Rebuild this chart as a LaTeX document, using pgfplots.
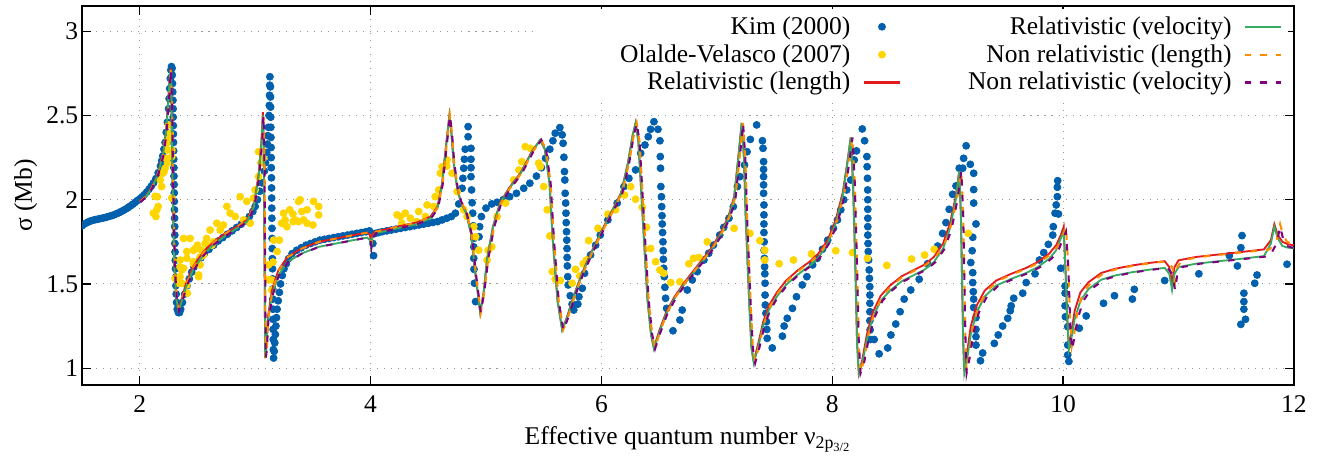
\documentclass[border=0pt]{standalone}
\usepackage{fontspec}
\setmainfont{Liberation Serif}
\usepackage{pgfplots}
\usepackage{pgfplotstable}
\pgfplotsset{compat=1.18}

\definecolor{kimblue}{RGB}{0,96,173}
\definecolor{olyellow}{RGB}{255,213,0}
\definecolor{relred}{RGB}{228,26,28}
\definecolor{rgreen}{RGB}{55,170,100}
\definecolor{nrorange}{RGB}{255,140,0}
\definecolor{nrpurple}{RGB}{128,0,128}

% theory: x, relativistic length (r), relativistic velocity (g), x of the non-relativistic runs (xp)
\pgfplotstableread{
x r g xp
2.000 1.990 1.985 2.005
2.050 2.020 2.015 2.055
2.100 2.070 2.065 2.105
2.150 2.140 2.135 2.155
2.200 2.270 2.260 2.205
2.230 2.420 2.410 2.235
2.250 2.620 2.610 2.255
2.265 2.780 2.770 2.270
2.275 2.600 2.600 2.280
2.285 2.100 2.100 2.290
2.300 1.600 1.600 2.305
2.315 1.420 1.420 2.320
2.335 1.350 1.340 2.340
2.360 1.400 1.385 2.365
2.400 1.500 1.480 2.405
2.460 1.600 1.580 2.465
2.550 1.690 1.670 2.555
2.640 1.750 1.735 2.645
2.740 1.800 1.785 2.745
2.840 1.840 1.830 2.845
2.930 1.880 1.870 2.935
2.990 1.970 1.960 2.995
3.030 2.150 2.140 3.035
3.055 2.350 2.340 3.060
3.067 2.520 2.500 3.072
3.075 2.300 2.300 3.080
3.082 1.600 1.600 3.087
3.087 1.060 1.060 3.092
3.095 1.100 1.100 3.100
3.110 1.300 1.280 3.115
3.145 1.460 1.430 3.150
3.200 1.580 1.550 3.205
3.280 1.660 1.630 3.285
3.400 1.710 1.680 3.405
3.550 1.750 1.720 3.555
3.700 1.770 1.740 3.705
3.850 1.790 1.760 3.855
3.970 1.805 1.775 3.975
3.995 1.790 1.760 4.000
4.003 1.740 1.720 4.008
4.012 1.790 1.770 4.017
4.040 1.810 1.800 4.045
4.200 1.835 1.825 4.205
4.400 1.865 1.855 4.405
4.520 1.900 1.890 4.525
4.580 1.960 1.950 4.585
4.620 2.100 2.090 4.625
4.655 2.330 2.320 4.660
4.683 2.500 2.500 4.688
4.700 2.400 2.400 4.705
4.720 2.220 2.220 4.725
4.750 2.070 2.070 4.755
4.780 1.990 1.990 4.785
4.830 1.920 1.915 4.835
4.870 1.800 1.800 4.875
4.910 1.550 1.550 4.915
4.950 1.330 1.330 4.955
4.980 1.450 1.450 4.985
5.010 1.650 1.650 5.020
5.060 1.840 1.835 5.070
5.120 1.980 1.975 5.130
5.200 2.070 2.065 5.210
5.300 2.160 2.155 5.310
5.400 2.290 2.285 5.410
5.470 2.355 2.355 5.480
5.510 2.300 2.300 5.520
5.550 2.100 2.100 5.560
5.580 1.750 1.750 5.590
5.620 1.400 1.400 5.630
5.660 1.230 1.225 5.670
5.700 1.300 1.295 5.710
5.760 1.430 1.425 5.770
5.830 1.560 1.555 5.840
5.900 1.670 1.665 5.910
5.990 1.800 1.795 6.000
6.080 1.920 1.915 6.090
6.170 2.040 2.035 6.180
6.230 2.220 2.215 6.240
6.270 2.380 2.380 6.280
6.296 2.455 2.455 6.306
6.320 2.350 2.350 6.330
6.345 2.050 2.050 6.355
6.370 1.750 1.750 6.380
6.400 1.400 1.400 6.410
6.430 1.200 1.200 6.440
6.455 1.120 1.115 6.465
6.500 1.220 1.210 6.510
6.560 1.330 1.320 6.570
6.630 1.420 1.410 6.640
6.720 1.510 1.500 6.730
6.800 1.580 1.570 6.810
6.870 1.640 1.630 6.880
6.950 1.710 1.700 6.960
7.030 1.800 1.790 7.042
7.100 1.900 1.890 7.112
7.150 2.020 2.010 7.162
7.190 2.280 2.270 7.202
7.215 2.455 2.455 7.227
7.235 2.250 2.250 7.247
7.250 1.900 1.900 7.262
7.280 1.400 1.400 7.292
7.300 1.120 1.120 7.312
7.320 1.040 1.030 7.332
7.360 1.150 1.130 7.372
7.400 1.270 1.250 7.412
7.450 1.370 1.345 7.462
7.520 1.450 1.425 7.532
7.600 1.520 1.495 7.612
7.700 1.580 1.555 7.712
7.800 1.630 1.605 7.812
7.880 1.680 1.655 7.892
7.960 1.760 1.740 7.972
8.030 1.880 1.860 8.045
8.090 2.040 2.020 8.105
8.130 2.220 2.210 8.145
8.160 2.370 2.370 8.175
8.180 2.100 2.100 8.195
8.200 1.600 1.600 8.215
8.215 1.150 1.150 8.230
8.230 0.970 0.970 8.245
8.260 1.050 1.030 8.275
8.300 1.200 1.170 8.315
8.350 1.330 1.300 8.365
8.420 1.430 1.400 8.435
8.500 1.490 1.460 8.515
8.600 1.545 1.515 8.615
8.700 1.580 1.550 8.715
8.800 1.615 1.585 8.815
8.880 1.660 1.630 8.895
8.960 1.740 1.710 8.975
9.020 1.860 1.830 9.035
9.070 2.020 2.000 9.085
9.100 2.170 2.170 9.118
9.115 1.900 1.900 9.135
9.125 1.500 1.500 9.145
9.135 1.150 1.150 9.155
9.144 0.980 0.970 9.164
9.170 1.100 1.060 9.190
9.200 1.250 1.200 9.220
9.250 1.370 1.330 9.270
9.320 1.460 1.425 9.340
9.420 1.520 1.490 9.440
9.550 1.560 1.530 9.570
9.680 1.595 1.565 9.700
9.780 1.630 1.600 9.800
9.880 1.680 1.650 9.900
9.940 1.730 1.700 9.960
9.980 1.790 1.770 10.000
10.005 1.840 1.810 10.025
10.020 1.600 1.600 10.045
10.035 1.300 1.300 10.060
10.050 1.130 1.110 10.075
10.070 1.200 1.170 10.095
10.100 1.340 1.290 10.125
10.150 1.450 1.400 10.175
10.220 1.510 1.470 10.245
10.330 1.565 1.525 10.355
10.450 1.590 1.550 10.475
10.600 1.610 1.570 10.625
10.750 1.625 1.585 10.775
10.880 1.635 1.595 10.905
10.920 1.600 1.560 10.945
10.944 1.510 1.464 10.970
10.965 1.600 1.560 10.990
11.000 1.640 1.600 11.030
11.150 1.660 1.620 11.185
11.350 1.675 1.635 11.385
11.550 1.690 1.650 11.590
11.740 1.705 1.665 11.790
11.800 1.760 1.740 11.850
11.830 1.855 1.840 11.880
11.860 1.790 1.770 11.905
11.900 1.750 1.725 11.940
11.950 1.735 1.715 11.990
12.000 1.730 1.712 12.040
}\theory

\pgfplotstableread{
x y
1.50 1.845
1.52 1.855
1.54 1.863
1.56 1.870
1.58 1.875
1.60 1.879
1.62 1.882
1.64 1.885
1.66 1.888
1.68 1.891
1.70 1.894
1.72 1.898
1.74 1.902
1.76 1.906
1.78 1.911
1.80 1.917
1.82 1.923
1.84 1.930
1.86 1.937
1.88 1.945
1.90 1.954
1.92 1.963
1.94 1.973
1.96 1.984
1.98 1.995
2.00 2.005
2.02 2.017
2.04 2.030
2.06 2.045
2.08 2.062
2.10 2.080
2.12 2.100
2.14 2.125
2.16 2.160
2.18 2.200
2.19 2.230
2.20 2.260
2.21 2.300
2.22 2.340
2.23 2.400
2.24 2.460
2.25 2.540
2.255 2.600
2.26 2.660
2.265 2.720
2.27 2.770
2.275 2.790
2.28 2.780
2.282 2.74
2.284 2.69
2.286 2.64
2.288 2.59
2.289 2.54
2.290 2.49
2.291 2.44
2.292 2.39
2.293 2.34
2.294 2.29
2.295 2.24
2.296 2.19
2.297 2.14
2.298 2.09
2.299 2.04
2.300 1.99
2.301 1.94
2.302 1.89
2.303 1.84
2.304 1.79
2.305 1.74
2.306 1.69
2.308 1.64
2.310 1.59
2.312 1.54
2.314 1.49
2.316 1.44
2.320 1.39
2.325 1.35
2.335 1.33
2.345 1.33
2.355 1.35
2.37 1.39
2.39 1.44
2.41 1.49
2.43 1.53
2.45 1.57
2.47 1.60
2.50 1.63
2.53 1.655
2.56 1.68
2.60 1.705
2.64 1.73
2.68 1.755
2.72 1.775
2.76 1.795
2.80 1.815
2.84 1.835
2.88 1.855
2.92 1.875
2.95 1.90
2.98 1.93
3.00 1.96
3.02 2.00
3.04 2.05
3.06 2.10
3.08 2.17
3.09 2.22
3.10 2.28
3.105 2.33
3.11 2.38
3.115 2.43
3.12 2.50
3.123 2.56
3.125 2.62
3.127 2.68
3.128 2.73
3.132 2.67
3.133 2.61
3.134 2.55
3.135 2.49
3.136 2.43
3.137 2.37
3.138 2.31
3.139 2.25
3.140 2.19
3.141 2.13
3.142 2.07
3.143 2.01
3.144 1.95
3.145 1.89
3.146 1.83
3.147 1.77
3.148 1.71
3.149 1.65
3.150 1.59
3.151 1.53
3.152 1.47
3.153 1.41
3.154 1.35
3.155 1.29
3.156 1.23
3.157 1.17
3.158 1.11
3.160 1.06
3.165 1.10
3.170 1.15
3.175 1.20
3.180 1.25
3.185 1.30
3.190 1.35
3.200 1.40
3.210 1.45
3.220 1.50
3.235 1.55
3.250 1.59
3.270 1.62
3.290 1.65
3.320 1.68
3.360 1.70
3.40 1.715
3.44 1.730
3.48 1.740
3.52 1.750
3.56 1.760
3.60 1.765
3.64 1.770
3.68 1.775
3.72 1.780
3.76 1.785
3.80 1.790
3.84 1.795
3.88 1.800
3.92 1.805
3.96 1.810
3.99 1.815
4.020 1.740
4.026 1.668
4.04 1.800
4.07 1.805
4.10 1.810
4.14 1.815
4.18 1.820
4.22 1.825
4.26 1.830
4.30 1.835
4.34 1.840
4.38 1.845
4.42 1.850
4.46 1.855
4.50 1.860
4.54 1.865
4.58 1.870
4.62 1.880
4.66 1.890
4.70 1.900
4.735 1.920
4.764 1.975
4.793 2.068
4.800 2.127
4.807 2.187
4.813 2.240
4.820 2.300
4.845 2.374
4.845 2.434
4.870 2.305
4.870 2.240
4.870 2.190
4.870 2.137
4.875 2.058
4.880 1.982
4.885 1.920
4.890 1.845
4.894 1.770
4.894 1.720
4.894 1.652
4.896 1.587
4.900 1.504
4.910 1.395
4.940 1.780
4.945 1.840
4.960 1.900
5.000 1.950
5.050 1.975
5.096 1.985
5.150 2.000
5.205 2.018
5.264 2.038
5.327 2.068
5.380 2.098
5.437 2.140
5.480 2.190
5.516 2.246
5.553 2.300
5.580 2.350
5.600 2.395
5.640 2.428
5.660 2.385
5.668 2.335
5.675 2.252
5.680 2.167
5.683 2.117
5.686 2.038
5.690 1.980
5.693 1.920
5.695 1.864
5.698 1.810
5.700 1.760
5.702 1.710
5.703 1.657
5.705 1.607
5.708 1.543
5.712 1.494
5.730 1.430
5.746 1.380
5.760 1.345
5.796 1.380
5.805 1.424
5.834 1.474
5.854 1.563
5.906 1.672
5.950 1.730
5.990 1.790
6.056 1.880
6.137 1.980
6.195 2.078
6.238 2.127
6.296 2.177
6.340 2.276
6.377 2.325
6.406 2.374
6.426 2.418
6.455 2.463
6.490 2.418
6.507 2.350
6.510 2.256
6.512 2.187
6.515 2.078
6.520 2.018
6.522 1.959
6.525 1.905
6.527 1.856
6.530 1.805
6.533 1.750
6.535 1.697
6.537 1.646
6.540 1.593
6.545 1.543
6.550 1.480
6.556 1.415
6.565 1.355
6.620 1.222
6.680 1.286
6.700 1.345
6.744 1.464
6.787 1.524
6.830 1.573
6.888 1.642
6.930 1.682
6.970 1.730
7.025 1.790
7.060 1.836
7.105 1.890
7.143 1.959
7.178 2.078
7.200 2.137
7.240 2.206
7.262 2.285
7.290 2.358
7.345 2.444
7.395 2.350
7.400 2.305
7.405 2.226
7.405 2.180
7.405 2.137
7.405 2.088
7.405 2.038
7.408 1.969
7.408 1.910
7.408 1.856
7.408 1.805
7.410 1.750
7.410 1.700
7.412 1.652
7.414 1.602
7.416 1.560
7.418 1.504
7.418 1.434
7.420 1.375
7.425 1.326
7.430 1.276
7.433 1.230
7.436 1.177
7.480 1.120
7.568 1.190
7.583 1.250
7.610 1.296
7.655 1.355
7.690 1.424
7.740 1.494
7.780 1.543
7.830 1.613
7.870 1.652
7.915 1.706
7.960 1.760
8.010 1.830
8.045 1.880
8.074 1.940
8.100 2.000
8.125 2.058
8.160 2.117
8.190 2.236
8.210 2.290
8.260 2.420
8.280 2.350
8.300 2.256
8.302 2.196
8.305 2.127
8.307 2.058
8.308 2.000
8.308 1.943
8.308 1.890
8.308 1.840
8.308 1.790
8.310 1.740
8.312 1.692
8.315 1.642
8.320 1.583
8.322 1.533
8.325 1.484
8.326 1.434
8.326 1.385
8.326 1.335
8.326 1.282
8.328 1.227
8.330 1.170
8.363 1.170
8.406 1.085
8.480 1.120
8.508 1.197
8.550 1.262
8.588 1.335
8.623 1.410
8.680 1.464
8.753 1.528
8.826 1.620
8.913 1.725
8.956 1.800
8.985 1.864
9.013 1.943
9.043 2.032
9.072 2.082
9.100 2.187
9.130 2.187
9.138 2.246
9.160 2.320
9.196 2.210
9.225 2.157
9.225 2.060
9.225 1.980
9.245 1.856
9.217 1.777
9.212 1.697
9.200 1.627
9.217 1.567
9.217 1.508
9.222 1.454
9.225 1.410
9.225 1.360
9.245 1.300
9.245 1.230
9.245 1.187
9.245 1.137
9.284 1.044
9.303 1.090
9.404 1.147
9.438 1.197
9.476 1.250
9.520 1.296
9.542 1.341
9.550 1.370
9.572 1.415
9.650 1.445
9.680 1.508
9.757 1.560
9.795 1.642
9.832 1.686
9.872 1.735
9.910 1.790
9.915 1.840
9.930 1.920
9.940 1.969
9.950 2.018
9.950 2.074
9.953 2.113
9.960 1.915
9.980 1.593
10.017 1.488
10.017 1.445
10.017 1.370
10.020 1.305
10.040 1.246
10.040 1.137
10.040 1.078
10.050 1.040
10.140 1.237
10.200 1.310
10.350 1.385
10.445 1.430
10.600 1.410
10.617 1.468
10.880 1.520
11.176 1.560
11.440 1.668
11.510 1.607
11.540 1.715
11.550 1.787
11.566 1.445
11.566 1.395
11.566 1.350
11.580 1.290
11.540 1.260
11.660 1.504
11.680 1.553
11.940 1.617
}\kim

\pgfplotstableread{
x y
2.118 1.920
2.133 2.020
2.140 1.900
2.148 1.940
2.153 2.018
2.160 1.960
2.177 2.117
2.190 2.078
2.200 2.157
2.210 2.166
2.220 2.187
2.230 2.246
2.234 2.335
2.240 2.217
2.240 2.295
2.249 2.444
2.263 2.395
2.263 2.365
2.278 2.295
2.278 2.256
2.278 2.010
2.307 1.533
2.335 1.504
2.350 1.543
2.350 1.600
2.350 1.642
2.365 1.504
2.365 1.583
2.380 1.593
2.380 1.770
2.408 1.494
2.408 1.652
2.408 1.692
2.413 1.445
2.437 1.770
2.465 1.620
2.465 1.632
2.465 1.700
2.480 1.710
2.495 1.710
2.500 1.730
2.510 1.553
2.510 1.543
2.523 1.613
2.523 1.660
2.538 1.700
2.552 1.672
2.567 1.740
2.580 1.770
2.610 1.820
2.625 1.730
2.640 1.750
2.668 1.860
2.697 1.820
2.725 1.850
2.755 1.960
2.784 1.920
2.827 1.900
2.870 2.018
2.900 1.880
2.928 1.990
2.957 1.860
2.986 2.010
3.000 2.058
3.030 2.137
3.030 2.285
3.050 2.220
3.070 2.246
3.116 1.524
3.116 1.613
3.145 1.464
3.145 1.524
3.155 1.630
3.160 1.760
3.190 1.692
3.210 1.760
3.230 1.860
3.246 1.920
3.260 1.880
3.275 1.840
3.300 1.940
3.327 1.915
3.330 1.870
3.347 1.880
3.376 1.990
3.376 1.870
3.390 2.000
3.405 1.930
3.420 1.880
3.450 1.940
3.450 1.860
3.500 1.850
3.506 1.990
3.550 1.960
3.550 1.910
4.230 1.910
4.260 1.900
4.270 1.860
4.300 1.920
4.345 1.890
4.400 1.870
4.417 1.930
4.475 1.900
4.490 1.969
4.547 1.960
4.560 2.018
4.590 2.058
4.605 2.157
4.620 2.196
4.660 2.200
4.663 2.236
4.706 2.157
4.750 2.048
4.807 1.940
4.836 1.900
4.894 1.840
4.910 1.780
4.937 1.700
5.010 1.642
5.020 1.700
5.050 1.720
5.096 1.900
5.170 1.980
5.240 2.117
5.285 2.177
5.310 2.226
5.340 2.315
5.385 2.305
5.457 2.217
5.470 2.196
5.500 2.078
5.530 1.940
5.553 1.785
5.574 1.573
5.600 1.528
5.645 1.520
5.746 1.504
5.776 1.587
5.813 1.547
5.842 1.620
5.870 1.642
5.890 1.757
5.970 1.830
6.056 1.914
6.123 1.940
6.200 2.028
6.253 2.078
6.296 2.003
6.354 1.955
6.390 1.836
6.426 1.710
6.470 1.632
6.507 1.583
6.540 1.563
6.600 1.508
6.680 1.513
6.758 1.620
6.797 1.652
6.845 1.657
6.917 1.750
7.150 1.830
7.287 1.800
7.373 1.757
7.415 1.700
7.415 1.642
7.540 1.620
7.664 1.642
7.820 1.678
8.030 1.697
8.175 1.686
8.305 1.652
8.473 1.610
8.687 1.648
8.800 1.672
8.883 1.706
9.178 1.800
}\olalde

\begin{document}
\begin{tikzpicture}
\useasboundingbox (-1.559,-1.331) rectangle (23.535,7.319);
\begin{axis}[
    scale only axis,
    width=23.04cm, height=7.205cm,
    xmin=1.5, xmax=12, ymin=0.9, ymax=3.15,
    xtick={2,4,...,12}, ytick={1,1.5,2,2.5,3},
    font=\fontsize{13.8}{16}\selectfont,
    /pgf/number format/assume math mode=true,
    grid=major,
    grid style={gray!80, line width=0.5pt, dash pattern=on 0.6pt off 3.2pt},
    axis line style={line width=1pt},
    tick align=inside, major tick length=5pt,
    tick style={black, line width=0.7pt},
    clip marker paths=true,
    xlabel={Effective quantum number ν\textsubscript{2p\textsubscript{3/2}}},
    ylabel={σ (Mb)},
    ylabel style={yshift=-2pt},
    xlabel style={yshift=-1pt},
    xticklabel style={yshift=-2pt},
    yticklabel style={xshift=1.5pt},
    legend columns=2,
    legend plot pos=right,
    legend cell align=right,
    legend image code/.code={\draw[mark repeat=2,mark phase=2] plot coordinates {(0cm,0cm) (0.35cm,0cm) (0.7cm,0cm)};},
    legend style={at={(1,1)}, anchor=north east, xshift=-3pt, yshift=-1.5pt, draw=none, fill=white,
        font=\fontsize{13.8}{16}\selectfont,
        /tikz/column 1/.append style={column sep=4.5pt},
        /tikz/column 2/.append style={column sep=34pt},
        /tikz/column 3/.append style={column sep=4.5pt}},
]
\addplot[forget plot, only marks, mark=*, mark size=1.9pt, kimblue] table[x=x, y=y] {\kim};
\addplot[forget plot, only marks, mark=*, mark size=1.9pt, olyellow] table[x=x, y=y] {\olalde};
\addplot[forget plot, color=relred, line width=1pt] table[x=x, y=r] {\theory};
\addplot[forget plot, color=rgreen, line width=1pt] table[x=x, y=g] {\theory};
\addplot[forget plot, color=nrorange, line width=1.1pt, dash pattern=on 3.5pt off 5pt] table[x=xp, y=r] {\theory};
\addplot[forget plot, color=nrpurple, line width=1.1pt, dash pattern=on 3.5pt off 5pt] table[x=xp, y=g] {\theory};

\addlegendimage{only marks, mark=*, mark size=1.9pt, kimblue}
\addlegendentry{Kim (2000)}
\addlegendimage{color=rgreen, line width=1pt}
\addlegendentry{Relativistic (velocity)}
\addlegendimage{only marks, mark=*, mark size=1.9pt, olyellow}
\addlegendentry{\makebox[165pt][r]{Olalde-Velasco (2007)}}
\addlegendimage{color=nrorange, line width=1.1pt, dash pattern=on 3.5pt off 5pt}
\addlegendentry{Non relativistic (length)}
\addlegendimage{color=relred, line width=1.2pt}
\addlegendentry{Relativistic (length)}
\addlegendimage{color=nrpurple, line width=1.1pt, dash pattern=on 3.5pt off 5pt}
\addlegendentry{Non relativistic (velocity)}
\end{axis}
\end{tikzpicture}
\end{document}
